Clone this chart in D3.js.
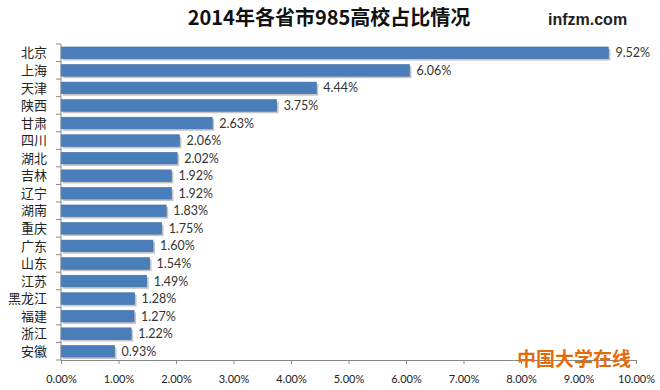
<!DOCTYPE html>
<html>
<head>
<meta charset="utf-8">
<script src="https://cdn.jsdelivr.net/npm/d3@7.9.0/dist/d3.min.js"></script>
<style>
  body { margin: 0; background: #fff; }
  svg { display: block; }
</style>
</head>
<body>
<svg id="chart" width="660" height="390"></svg>
<script>
// values (share of 985 universities, %)
let provinces = ['北京', '上海', '天津', '陕西', '甘肃', '四川', '湖北', '吉林', '辽宁', '湖南',
  '重庆', '广东', '山东', '江苏', '黑龙江', '福建', '浙江', '安徽'];
let shares = [9.52, 6.06, 4.44, 3.75, 2.63, 2.06, 2.02, 1.92, 1.92, 1.83,
  1.75, 1.60, 1.54, 1.49, 1.28, 1.27, 1.22, 0.93];
let xTicks = [0, 1, 2, 3, 4, 5, 6, 7, 8, 9, 10];

let title = '2014年各省市985高校占比情况';
let siteMark = 'infzm.com';
let sourceMark = '中国大学在线';

let svg = d3.select('#chart');
let plotLeft = 61, plotRight = 636, plotTop = 44, plotBottom = 360;

let x = d3.scaleLinear().domain([0, 10]).range([plotLeft, plotRight]);
let y = d3.scaleBand().domain(provinces).range([plotTop, plotBottom]).paddingInner(0.34).paddingOuter(0.17);

let cjk = '"Noto Sans CJK SC", "Noto Sans", sans-serif';
let num = 'Lato, "Open Sans", "Liberation Sans", sans-serif';

// title + marks
svg.append('text')
  .attr('x', 329).attr('y', 25)
  .attr('text-anchor', 'middle')
  .attr('font-family', cjk)
  .attr('font-weight', 'bold')
  .attr('font-size', 20)
  .attr('fill', '#111')
  .text(title);

svg.append('text')
  .attr('x', 548).attr('y', 25)
  .attr('font-family', '"Liberation Sans", Arial, sans-serif')
  .attr('font-weight', 'bold')
  .attr('font-size', 16)
  .attr('fill', '#222')
  .text(siteMark);

// bars (shadow first, then the blue bar)
let rows = svg.append('g');
provinces.forEach((p, i) => {
  let v = shares[i];
  rows.append('rect')
    .attr('x', x(0) + 2)
    .attr('y', y(p) + 2)
    .attr('width', x(v) - x(0))
    .attr('height', y.bandwidth())
    .attr('fill', '#c4c4c4');
  rows.append('rect')
    .attr('x', x(0))
    .attr('y', y(p))
    .attr('width', x(v) - x(0))
    .attr('height', y.bandwidth())
    .attr('fill', '#4a7ebb')
    .attr('stroke', '#3f6fa8')
    .attr('stroke-width', 0.6);
  rows.append('text')
    .attr('x', x(v) + 7)
    .attr('y', y(p) + y.bandwidth() / 2)
    .attr('dy', '0.36em')
    .attr('font-family', num)
    .attr('font-size', 12.5)
    .attr('fill', '#333')
    .text(v.toFixed(2) + '%');
});

// y axis: category labels, ticks between bands
let yAxis = svg.append('g');
yAxis.append('line')
  .attr('x1', plotLeft).attr('x2', plotLeft)
  .attr('y1', plotTop).attr('y2', plotBottom)
  .attr('stroke', '#888');
d3.range(provinces.length + 1).forEach((k) => {
  let yy = plotTop + k * (plotBottom - plotTop) / provinces.length;
  yAxis.append('line')
    .attr('x1', plotLeft - 5).attr('x2', plotLeft)
    .attr('y1', yy).attr('y2', yy)
    .attr('stroke', '#888');
});
provinces.forEach((p) => {
  yAxis.append('text')
    .attr('x', 47)
    .attr('y', y(p) + y.bandwidth() / 2)
    .attr('dy', '0.36em')
    .attr('text-anchor', 'end')
    .attr('font-family', cjk)
    .attr('font-size', 13)
    .attr('fill', '#222')
    .text(p);
});

// x axis
let xAxis = d3.axisBottom(x)
  .tickValues(xTicks)
  .tickSize(4)
  .tickPadding(11)
  .tickFormat((d) => d.toFixed(2) + '%');

let gx = svg.append('g')
  .attr('transform', `translate(0,${plotBottom})`)
  .call(xAxis);
gx.select('.domain').attr('stroke', '#888');
gx.selectAll('.tick line').attr('stroke', '#888');
gx.selectAll('.tick text')
  .attr('font-family', num)
  .attr('font-size', 11)
  .attr('fill', '#222');

// source mark sits over the axis line
svg.append('text')
  .attr('x', 517).attr('y', 366)
  .attr('font-family', cjk)
  .attr('font-weight', 'bold')
  .attr('font-size', 19)
  .attr('fill', '#e36c0a')
  .text(sourceMark);
</script>
</body>
</html>
